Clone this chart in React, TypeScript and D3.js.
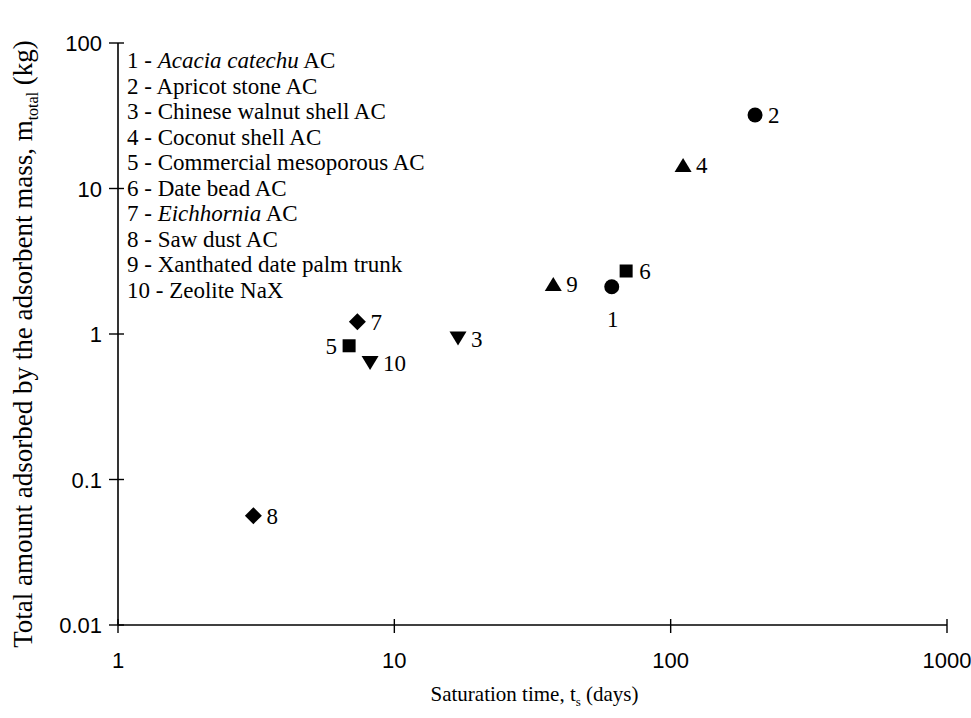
import React from "react";
import * as d3 from "d3";

const ids = ["1", "2", "3", "4", "5", "6", "7", "8", "9", "10"];
const satTime = [61.2, 202, 17.0, 110.9, 6.86, 69.0, 7.35, 3.09, 37.6, 8.17];
const massTotal = [2.11, 32.0, 0.93, 14.5, 0.83, 2.71, 1.215, 0.0564, 2.21, 0.632];
const shapes = ["circle", "circle", "down", "up", "square", "square", "diamond", "diamond", "up", "down"];
const labelPos = ["below", "right", "right", "right", "left", "right", "right", "right", "right", "right"];

const legendItems: [string, string, string][] = [
  ["1 - ", "Acacia catechu", " AC"],
  ["2 - Apricot stone AC", "", ""],
  ["3 - Chinese walnut shell AC", "", ""],
  ["4 - Coconut shell AC", "", ""],
  ["5 - Commercial mesoporous AC", "", ""],
  ["6 - Date bead AC", "", ""],
  ["7 - ", "Eichhornia", " AC"],
  ["8 - Saw dust AC", "", ""],
  ["9 - Xanthated date palm trunk", "", ""],
  ["10 - Zeolite NaX", "", ""],
];

const xTicks = [1, 10, 100, 1000];
const yTicks = [0.01, 0.1, 1, 10, 100];

const W = 971;
const H = 718;
const left = 118;
const right = 947;
const top = 43;
const bottom = 625;

const serif = "Liberation Serif, DejaVu Serif, serif";
const sans = "Liberation Sans, Arial, sans-serif";

function marker(shape: string, cx: number, cy: number, key: number) {
  if (shape === "circle") return <circle key={key} cx={cx} cy={cy} r={7.5} fill="#000" />;
  if (shape === "square") return <rect key={key} x={cx - 6.5} y={cy - 6.5} width={13} height={13} fill="#000" />;
  if (shape === "diamond") {
    const r = 8.5;
    return <path key={key} d={`M${cx},${cy - r}L${cx + r},${cy}L${cx},${cy + r}L${cx - r},${cy}Z`} fill="#000" />;
  }
  if (shape === "up") {
    return <path key={key} d={`M${cx},${cy - 7}L${cx + 8.5},${cy + 7}L${cx - 8.5},${cy + 7}Z`} fill="#000" />;
  }
  return <path key={key} d={`M${cx - 8.5},${cy - 7}L${cx + 8.5},${cy - 7}L${cx},${cy + 7}Z`} fill="#000" />;
}

export default function App() {
  const x = d3.scaleLog().domain([1, 1000]).range([left, right]);
  const y = d3.scaleLog().domain([0.01, 100]).range([bottom, top]);

  return (
    <svg width={W} height={H} style={{ position: "absolute", left: 0, top: 0, background: "#fff" }}>
      <rect x={0} y={0} width={W} height={H} fill="#fff" />
      <line x1={left} x2={right} y1={bottom} y2={bottom} stroke="#000" strokeWidth={1.6} />
      <line x1={left} x2={left} y1={top} y2={bottom} stroke="#000" strokeWidth={1.6} />
      {xTicks.map((t, i) => (
        <g key={"xt" + i}>
          <line x1={x(t)} x2={x(t)} y1={bottom - 6} y2={bottom + 8} stroke="#000" strokeWidth={1.4} />
          <text x={x(t)} y={bottom + 43} fontFamily={sans} fontSize={22} textAnchor="middle" fill="#000">
            {String(t)}
          </text>
        </g>
      ))}
      {yTicks.map((t, i) => (
        <g key={"yt" + i}>
          <line x1={left - 9} x2={left + 6} y1={y(t)} y2={y(t)} stroke="#000" strokeWidth={1.4} />
          <text x={left - 16} y={y(t) + 8} fontFamily={sans} fontSize={22} textAnchor="end" fill="#000">
            {String(t)}
          </text>
        </g>
      ))}
      <text x={(left + right) / 2 + 2} y={701} fontFamily={serif} fontSize={21} textAnchor="middle" fill="#000">
        Saturation time, t<tspan fontSize={13} dy={5}>s</tspan>
        <tspan dy={-5}> (days)</tspan>
      </text>
      <text
        transform={`translate(32, 344) rotate(-90)`}
        fontFamily={serif}
        fontSize={27}
        textAnchor="middle"
        fill="#000"
      >
        Total amount adsorbed by the adsorbent mass, m<tspan fontSize={16} dy={6}>total</tspan>
        <tspan dy={-6}> (kg)</tspan>
      </text>
      {legendItems.map((it, i) => (
        <text key={"lg" + i} x={127} y={68 + i * 25.5} fontFamily={serif} fontSize={23} fill="#000">
          {it[0]}
          {it[1] ? <tspan fontStyle="italic">{it[1]}</tspan> : null}
          {it[2]}
        </text>
      ))}
      {satTime.map((t, i) => marker(shapes[i], x(t), y(massTotal[i]), i))}
      {satTime.map((t, i) => {
        const cx = x(t);
        const cy = y(massTotal[i]);
        const p = labelPos[i];
        if (p === "below")
          return (
            <text key={"pl" + i} x={cx + 1} y={cy + 40} fontFamily={serif} fontSize={23} textAnchor="middle" fill="#000">
              {ids[i]}
            </text>
          );
        if (p === "left")
          return (
            <text key={"pl" + i} x={cx - 12} y={cy + 8} fontFamily={serif} fontSize={23} textAnchor="end" fill="#000">
              {ids[i]}
            </text>
          );
        return (
          <text key={"pl" + i} x={cx + 13} y={cy + 8} fontFamily={serif} fontSize={23} textAnchor="start" fill="#000">
            {ids[i]}
          </text>
        );
      })}
    </svg>
  );
}
